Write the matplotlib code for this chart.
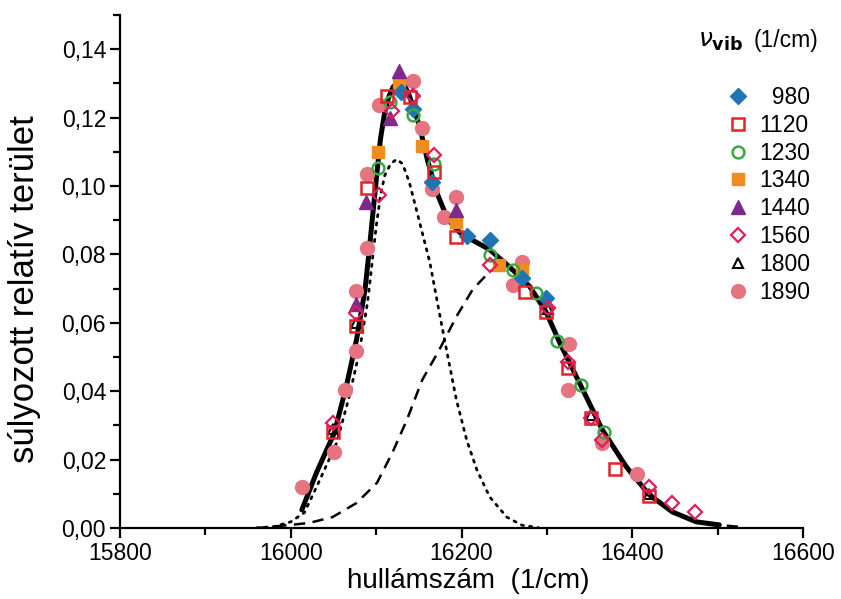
import matplotlib
matplotlib.use("Agg")
import matplotlib.pyplot as plt
from matplotlib.lines import Line2D

plt.rcParams['font.family'] = ['Liberation Sans', 'DejaVu Sans']

# ---------------- data ----------------
x_ticks = [15800, 16000, 16200, 16400, 16600]
x_tick_labels = ["15800", "16000", "16200", "16400", "16600"]
y_ticks = [0.00, 0.02, 0.04, 0.06, 0.08, 0.10, 0.12, 0.14]
y_tick_labels = ["0,00", "0,02", "0,04", "0,06", "0,08", "0,10", "0,12", "0,14"]

series_names = ["980", "1120", "1230", "1340", "1440", "1560", "1800", "1890"]

x980 = [16129, 16143, 16166, 16207, 16233, 16271, 16299]
y980 = [0.1274, 0.1224, 0.1013, 0.0855, 0.0843, 0.0732, 0.0673]

x1120 = [16050, 16077, 16089, 16113, 16140, 16168, 16194, 16274, 16299, 16325, 16352, 16380, 16420]
y1120 = [0.0281, 0.0591, 0.0993, 0.1262, 0.1259, 0.1042, 0.0852, 0.0691, 0.0632, 0.0468, 0.0322, 0.0173, 0.0094]

x1230 = [16102, 16116, 16143, 16168, 16233, 16260, 16287, 16312, 16340, 16367]
y1230 = [0.1054, 0.1247, 0.1209, 0.1063, 0.0799, 0.0755, 0.0688, 0.0548, 0.0419, 0.0281]

x1340 = [16102, 16127, 16154, 16194, 16244, 16271]
y1340 = [0.1098, 0.1303, 0.1116, 0.0896, 0.0770, 0.0755]

x1440 = [16076, 16088, 16116, 16127, 16194]
y1440 = [0.0656, 0.0952, 0.1198, 0.1335, 0.0931]

x1560 = [16050, 16077, 16103, 16119, 16143, 16168, 16233, 16301, 16325, 16352, 16365, 16420, 16447, 16474]
y1560 = [0.0307, 0.0630, 0.0975, 0.1218, 0.1262, 0.1092, 0.0770, 0.0644, 0.0486, 0.0322, 0.0258, 0.0120, 0.0073, 0.0047]

x1800 = [16050, 16077, 16301, 16352, 16420]
y1800 = [0.0290, 0.0600, 0.0640, 0.0330, 0.0100]

x1890 = [16013, 16051, 16064, 16077, 16077, 16089, 16089, 16103, 16143, 16154, 16166, 16180, 16194,
         16260, 16271, 16325, 16326, 16365, 16406]
y1890 = [0.0120, 0.0223, 0.0404, 0.0518, 0.0694, 0.0820, 0.1034, 0.1236, 0.1306, 0.1171, 0.0990, 0.0908,
         0.0969, 0.0711, 0.0779, 0.0404, 0.0539, 0.0249, 0.0158]

# fitted curves
fit_x = [16013, 16030, 16051, 16065, 16077, 16087, 16092, 16097, 16101, 16105, 16110, 16115, 16120, 16126,
         16132, 16138, 16145, 16151, 16160, 16171, 16184, 16198, 16212, 16233, 16256, 16280, 16299, 16315,
         16338, 16365, 16393, 16420, 16447, 16475, 16502]
fit_y = [0.0053, 0.0161, 0.0278, 0.0413, 0.0550, 0.0697, 0.0814, 0.0940, 0.1039, 0.1136, 0.1215, 0.1262,
         0.1290, 0.1303, 0.1298, 0.1270, 0.1220, 0.1174, 0.1077, 0.0981, 0.0902, 0.0864, 0.0843, 0.0814,
         0.0764, 0.0706, 0.0632, 0.0542, 0.0425, 0.0287, 0.0179, 0.0097, 0.0047, 0.0018, 0.0009]

comp1_x = [15960, 15980, 16000, 16016, 16033, 16054, 16068, 16080, 16090, 16095, 16100, 16105, 16110, 16117,
           16124, 16131, 16139, 16151, 16163, 16174, 16184, 16194, 16206, 16218, 16233, 16253, 16271, 16290]
comp1_y = [0.0000, 0.0004, 0.0018, 0.0045, 0.0135, 0.0250, 0.0380, 0.0510, 0.0660, 0.0770, 0.0880, 0.0970,
           0.1030, 0.1065, 0.1078, 0.1065, 0.1010, 0.0893, 0.0776, 0.0630, 0.0501, 0.0375, 0.0258, 0.0170,
           0.0091, 0.0032, 0.0008, 0.0001]

comp2_x = [15960, 16000, 16022, 16049, 16077, 16101, 16119, 16136, 16154, 16174, 16194, 16213, 16233, 16245,
           16256, 16280, 16299, 16315, 16338, 16365, 16393, 16420, 16447, 16475, 16502, 16531]
comp2_y = [0.0000, 0.0009, 0.0015, 0.0032, 0.0073, 0.0132, 0.0220, 0.0316, 0.0433, 0.0521, 0.0618, 0.0697,
           0.0750, 0.0765, 0.0764, 0.0704, 0.0630, 0.0540, 0.0425, 0.0287, 0.0179, 0.0097, 0.0047, 0.0018,
           0.0009, 0.0002]

# ---------------- figure ----------------
W, H = 841, 599
fig = plt.figure(figsize=(W / 100, H / 100), dpi=100)
ax = fig.add_axes([120 / W, 71 / H, 683 / W, 513 / H])

ax.plot(comp1_x, comp1_y, color='black', lw=2.0, linestyle=(0, (0.8, 2.2)),
        dash_capstyle='round', zorder=2)
ax.plot(comp2_x, comp2_y, color='black', lw=1.8, linestyle=(0, (4.5, 3)), zorder=2)
ax.plot(fit_x, fit_y, color='black', lw=3.6, solid_capstyle='round', zorder=3)

styles = {
    "980": dict(marker='D', color='#1f74b5', mfc='#1f74b5', ms=8.5, mew=1.0),
    "1120": dict(marker='s', color='#e3242b', mfc='none', ms=8.0, mew=1.8),
    "1230": dict(marker='o', color='#3aa845', mfc='none', ms=8.5, mew=1.8),
    "1340": dict(marker='s', color='#f08c1e', mfc='#f08c1e', ms=8.5, mew=1.0),
    "1440": dict(marker='^', color='#7d2a8c', mfc='#7d2a8c', ms=10.0, mew=1.0),
    "1560": dict(marker='D', color='#dc1e5a', mfc='none', ms=7.5, mew=1.6),
    "1800": dict(marker='^', color='black', mfc='none', ms=7.0, mew=1.5),
    "1890": dict(marker='o', color='#e57380', mfc='#e57380', ms=10.0, mew=1.0),
}
data = {
    "980": (x980, y980), "1120": (x1120, y1120), "1230": (x1230, y1230), "1340": (x1340, y1340),
    "1440": (x1440, y1440), "1560": (x1560, y1560), "1800": (x1800, y1800), "1890": (x1890, y1890),
}
zorders = {"1800": 1, "1890": 4, "1340": 5, "1440": 6, "980": 7, "1230": 8, "1120": 9, "1560": 10}
for name in series_names:
    xs, ys = data[name]
    ax.plot(xs, ys, linestyle='none', zorder=zorders[name], clip_on=False, **styles[name])

# axes styling
ax.set_xlim(15800, 16600)
ax.set_ylim(0, 0.15)
for s in ['top', 'right']:
    ax.spines[s].set_visible(False)
for s in ['left', 'bottom']:
    ax.spines[s].set_linewidth(1.6)

ax.set_xticks(x_ticks)
ax.set_xticklabels(x_tick_labels)
ax.set_xticks([15900, 16100, 16300, 16500], minor=True)
ax.set_yticks(y_ticks)
ax.set_yticklabels(y_tick_labels)
ax.set_yticks([0.01, 0.03, 0.05, 0.07, 0.09, 0.11, 0.13, 0.15], minor=True)
ax.tick_params(axis='both', which='major', direction='out', length=7, width=1.6, labelsize=16.5, pad=3)
ax.tick_params(axis='both', which='minor', direction='out', length=5, width=1.6)
ax.tick_params(axis='y', which='major', pad=3)

ax.set_xlabel("hullámszám  (1/cm)", fontsize=20)
ax.xaxis.set_label_coords(0.51, -0.078)
ax.set_ylabel("súlyozott relatív terület", fontsize=25)
ax.yaxis.set_label_coords(-0.115, 0.465)

# legend
handles = [Line2D([], [], linestyle='none', **styles[n]) for n in series_names]
labels = ["\u2007" + n if len(n) == 3 else n for n in series_names]
leg = fig.legend(handles, labels, loc='upper left', bbox_to_anchor=(727 / W, 1 - 86 / H),
                 frameon=False, fontsize=16.5, handlelength=0.95, handletextpad=0.45,
                 labelspacing=0.21, borderpad=0, borderaxespad=0)
fig.text(698 / W, 1 - 41 / H, r"$\nu_{\mathbf{vib}}$", fontsize=18, va='center', ha='left')
fig.text(754 / W, 1 - 40 / H, "(1/cm)", fontsize=16.5, va='center', ha='left')

fig.savefig("out.png", dpi=100)
